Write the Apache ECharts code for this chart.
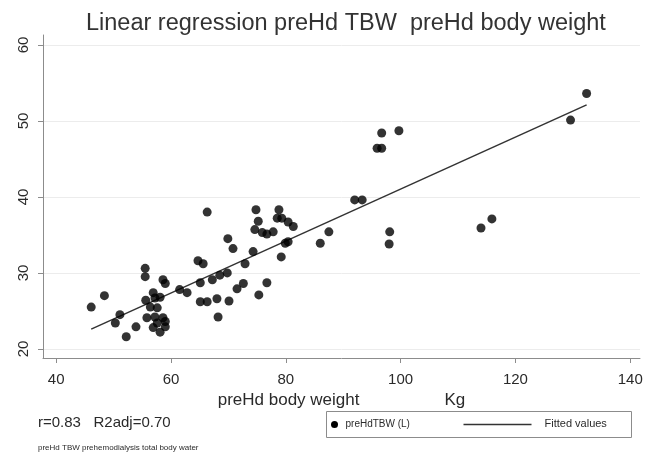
<!DOCTYPE html>
<html>
<head>
<meta charset="utf-8">
<script src="https://cdn.jsdelivr.net/npm/echarts@6/dist/echarts.min.js"></script>
<style>
  html, body { margin: 0; padding: 0; background: #fff; }
  #chart { width: 651px; height: 455px; }
</style>
</head>
<body>
<div id="chart"></div>
<script>
// preHd body weight (Kg) and preHd TBW (L)
var weightKg = [
  46.1, 48.4, 50.3, 51.1, 52.2, 53.9, 55.5, 55.5, 55.6, 55.8,
  56.4, 56.9, 57.2, 58.1, 57.6, 57.2, 58.6, 57.6, 59.0, 56.9,
  58.1, 59.0, 58.6, 59.0, 61.5, 62.8, 64.7, 65.6, 65.1, 67.2,
  68.5, 69.8, 65.1, 66.3, 68.0, 70.1, 68.2, 71.5, 66.3, 69.9,
  70.8, 72.6, 72.9, 74.3, 75.3, 76.7, 74.8, 78.8, 75.2, 78.5,
  74.6, 75.9, 76.7, 77.8, 79.3, 80.4, 81.3, 80.4, 79.9, 79.2,
  86.0, 87.5, 92.0, 93.3, 95.9, 96.7, 96.7, 99.7, 98.1, 98.0,
  114.0, 115.9, 129.6, 132.4
];
var tbwL = [
  25.5, 27.0, 23.4, 24.5, 21.6, 22.9, 30.6, 29.5, 26.4, 24.1,
  25.5, 27.4, 26.7, 26.8, 25.4, 24.2, 24.1, 23.4, 23.6, 22.8,
  22.2, 22.9, 29.1, 28.6, 27.8, 27.4, 31.6, 31.2, 28.7, 29.1,
  29.7, 30.0, 26.2, 26.2, 26.6, 26.3, 24.2, 27.9, 38.0, 34.5,
  33.2, 28.6, 31.2, 32.8, 27.1, 28.7, 38.3, 38.3, 36.8, 37.2,
  35.7, 35.3, 35.1, 35.4, 37.2, 36.7, 36.1, 34.1, 33.9, 32.1,
  33.9, 35.4, 39.6, 39.6, 46.4, 46.4, 48.4, 48.7, 35.4, 33.8,
  35.9, 37.1, 50.1, 53.6
];
// fitted values at the ends of the data range
var fitX = [46.1, 132.4];
var fitY = [22.6, 52.1];

var xTicks = [40, 60, 80, 100, 120, 140];
var yTicks = [20, 30, 40, 50, 60];

var font = 'Liberation Sans, Arial, sans-serif';
var chart = echarts.init(document.getElementById('chart'));

var points = [], fitted = [], i;
for (i = 0; i < weightKg.length; i++) {
  points.push([weightKg[i], tbwL[i]]);
}
for (i = 0; i < fitX.length; i++) {
  fitted.push([fitX[i], fitY[i]]);
}

chart.setOption({
  animation: false,
  backgroundColor: '#fff',
  textStyle: { fontFamily: font },
  title: {
    text: 'Linear regression preHd TBW  preHd body weight',
    left: 81,
    top: 7,
    textStyle: { fontSize: 23.5, fontWeight: 'normal', color: '#333', fontFamily: font }
  },
  grid: { left: 43, right: 11, top: 35, bottom: 97, containLabel: false },
  xAxis: {
    type: 'value',
    min: 37.7,
    max: 141.7,
    name: 'preHd body weight                  Kg',
    nameLocation: 'middle',
    nameGap: 31,
    nameTextStyle: { fontSize: 17, color: '#2a2a2a' },
    axisLine: { show: true, onZero: false, lineStyle: { color: '#8c8c8c', width: 1 } },
    axisTick: { show: true, length: 5, customValues: xTicks, lineStyle: { color: '#8c8c8c' } },
    axisLabel: { customValues: xTicks, fontSize: 15, color: '#2a2a2a', margin: 14 },
    splitLine: { show: false }
  },
  yAxis: {
    type: 'value',
    min: 18.8,
    max: 61.3,
    axisLine: { show: true, onZero: false, lineStyle: { color: '#8c8c8c', width: 1 } },
    axisTick: { show: true, length: 5, customValues: yTicks, lineStyle: { color: '#8c8c8c' } },
    axisLabel: { customValues: yTicks, fontSize: 15, color: '#2a2a2a', rotate: 90, margin: 12 },
    splitLine: { show: true, lineStyle: { color: '#ececec', width: 1 } }
  },
  series: [
    {
      name: 'preHdTBW (L)',
      type: 'scatter',
      data: points,
      symbol: 'circle',
      symbolSize: 9,
      itemStyle: { color: '#000' },
      z: 3
    },
    {
      name: 'Fitted values',
      type: 'line',
      data: fitted,
      symbol: 'none',
      lineStyle: { color: '#333', width: 1.5 },
      z: 2
    }
  ],
  graphic: [
    {
      type: 'text', left: 38, top: 415,
      style: { text: 'r=0.83   R2adj=0.70', fontSize: 15, fill: '#2a2a2a', fontFamily: font }
    },
    {
      type: 'text', left: 38, top: 444,
      style: { text: 'preHd TBW prehemodialysis total body water', fontSize: 8, fill: '#2a2a2a', fontFamily: font }
    },
    {
      type: 'group', left: 326, top: 411,
      children: [
        { type: 'rect', shape: { x: 0, y: 0, width: 305, height: 26 },
          style: { fill: '#fff', stroke: '#8c8c8c', lineWidth: 1 } },
        { type: 'circle', shape: { cx: 8, cy: 13, r: 3.5 }, style: { fill: '#000' } },
        { type: 'text', x: 19, y: 8,
          style: { text: 'preHdTBW (L)', fontSize: 10, fill: '#2a2a2a', fontFamily: font } },
        { type: 'line', shape: { x1: 137, y1: 13, x2: 205, y2: 13 },
          style: { stroke: '#333', lineWidth: 1.5 } },
        { type: 'text', x: 218, y: 7,
          style: { text: 'Fitted values', fontSize: 11, fill: '#2a2a2a', fontFamily: font } }
      ]
    }
  ]
});
</script>
</body>
</html>
